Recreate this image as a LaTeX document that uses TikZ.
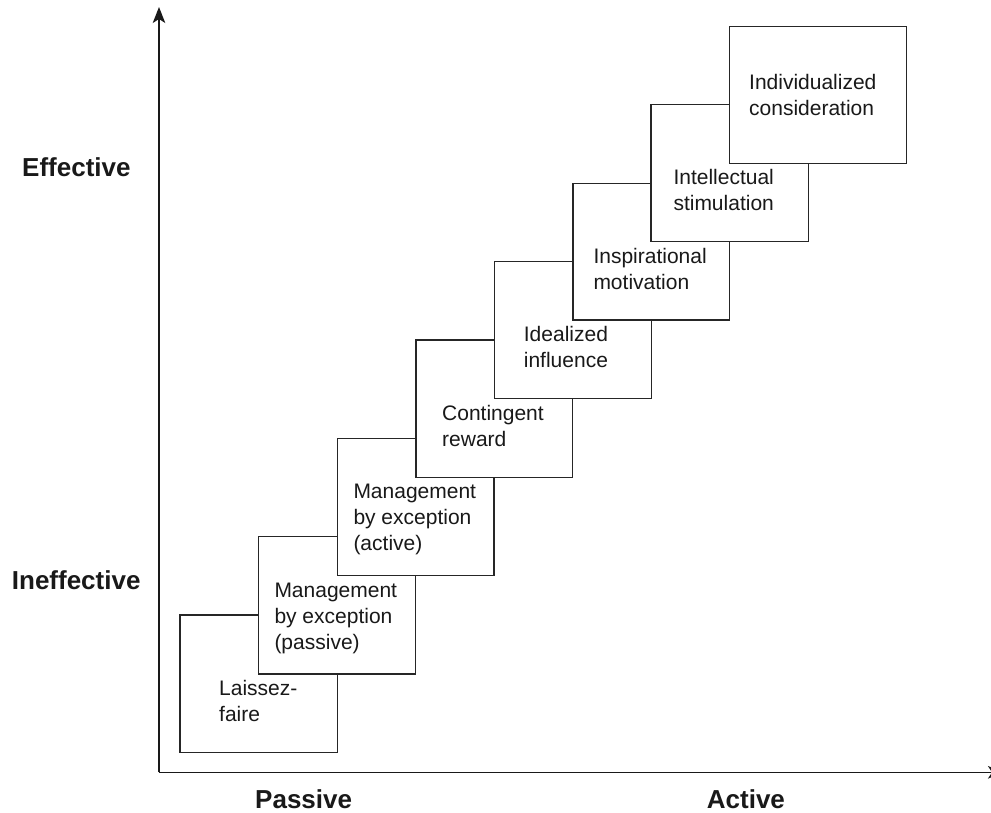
\documentclass[tikz,border=0pt]{standalone}
\usepackage{fontspec}
\setmainfont{Liberation Sans}
\usetikzlibrary{arrows.meta}
\begin{document}
\begin{tikzpicture}[x=1pt,y=-1pt,
  stepbox/.style={draw=black!85, fill=white, line width=1.2pt, inner sep=0pt, anchor=north west},
  boxtext/.style={anchor=north west, align=left, inner sep=0pt, font=\fontsize{21}{26}\selectfont, text=black!90},
  axislabel/.style={anchor=base west, inner sep=0pt, font=\fontsize{26}{30}\selectfont\bfseries, text=black!90},
  axisline/.style={line width=1.4pt, draw=black!90, -{Stealth[length=16pt,width=12.5pt,inset=4pt]}}]
\useasboundingbox (0,0) rectangle (991,812);
% axes
\coordinate (O) at (159,772.3);
\coordinate (ytop) at (159,7);
\coordinate (xend) at (1004,772.3);
\draw[axisline] (O) -- (ytop);
\draw[axisline] (O) -- (xend);
% boxes (drawn bottom-left to top-right)
\newcommand{\stepnode}[5]{%
  \node[stepbox, minimum width=#4pt-#2pt, minimum height=#5pt-#3pt] (#1) at (#2,#3) {};}
\stepnode{b1}{179.3}{614.3}{336.7}{751.7}
\node[boxtext] (t1) at (219,678) {\rule{0pt}{17pt}Laissez-\\faire};
\stepnode{b2}{257.7}{535.7}{415}{673.3}
\node[boxtext] (t2) at (274.3,580) {\rule{0pt}{17pt}Management\\by exception\\(passive)};
\stepnode{b3}{336.5}{437.7}{493.3}{574.7}
\node[boxtext] (t3) at (353.3,481.7) {\rule{0pt}{17pt}Management\\by exception\\(active)};
\stepnode{b4}{415.3}{339.3}{571.7}{476.7}
\node[boxtext] (t4) at (442,403.3) {\rule{0pt}{17pt}Contingent\\reward};
\stepnode{b5}{493.7}{261}{650.7}{398}
\node[boxtext] (t5) at (523.7,324.3) {\rule{0pt}{17pt}Idealized\\influence};
\stepnode{b6}{572.3}{182.7}{729}{319.3}
\node[boxtext] (t6) at (593.3,246) {\rule{0pt}{17pt}Inspirational\\motivation};
\stepnode{b7}{650.3}{104}{807.7}{241}
\node[boxtext] (t7) at (673.3,167) {\rule{0pt}{17pt}Intellectual\\stimulation};
\stepnode{b8}{729}{25.7}{906}{163}
\node[boxtext] (t8) at (749,72.7) {\rule{0pt}{17pt}Individualized\\consideration};
% axis labels
\node[axislabel] (eff) at (22,176) {Effective};
\node[axislabel] (ineff) at (11.7,589.5) {Ineffective};
\node[axislabel] (pas) at (255,808.5) {Passive};
\node[axislabel] (act) at (706.7,808) {Active};
\end{tikzpicture}
\end{document}
